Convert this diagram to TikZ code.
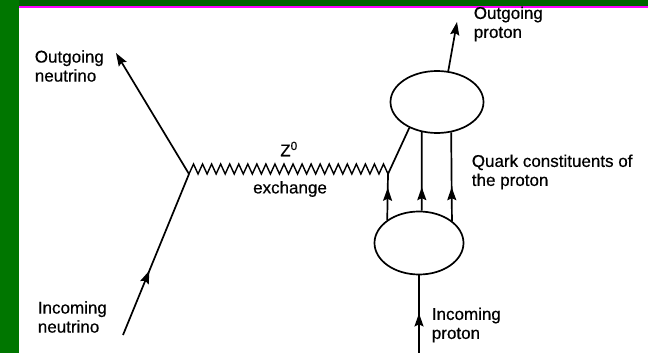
\documentclass[tikz,border=0pt]{standalone}
\usepackage{fontspec}
\setmainfont{Liberation Sans}[FakeBold=0.5]
\usepackage{xcolor}
\usetikzlibrary{arrows.meta,positioning,shapes.geometric,decorations.markings}

\definecolor{topgreen}{RGB}{0,100,0}
\definecolor{sidegreen}{RGB}{0,118,0}
\definecolor{rulepink}{RGB}{255,0,255}

\begin{document}
\begin{tikzpicture}[
    x=1pt, y=-1pt,
    line width=1.7pt,
    >={Stealth[length=13pt,width=9pt,inset=2pt]},
    blob/.style={ellipse, draw, line width=1.7pt, minimum width=89pt, minimum height=63pt, inner sep=0pt},
    lbl/.style={align=left, anchor=west, inner sep=0pt, font=\fontsize{17}{19}\selectfont},
    midarrow/.style={postaction={decorate}, decoration={markings, mark=at position #1 with {\arrow{>}}}}
]
\useasboundingbox (0,0) rectangle (648,353);

% frame
\fill[white] (0,0) rectangle (648,353);
\fill[topgreen] (0,0) rectangle (648,6);
\fill[sidegreen] (0,0) rectangle (19,353);
\fill[rulepink] (19,6) rectangle (648,8);

% vertices and free ends
\coordinate (V) at (189,174);
\coordinate (Q) at (388,174);
\coordinate (nuin) at (123,335);
\coordinate (nuout) at (116,53);
\coordinate (pin) at (419,353);
\coordinate (pout) at (457,22);

\node[blob, minimum width=93pt, minimum height=62pt] (top) at (437,102) {};
\node[blob] (bot) at (419,243) {};

% neutrino lines
\draw[->] (V) -- (nuout);
\draw[midarrow=0.4] (nuin) -- (V);

% Z0 exchange
\draw[line width=1.4pt, line join=miter] (V) \foreach \k in {1,...,22} { -- ++(4.523,-10) -- ++(4.523,10)};

% quarks
\draw[midarrow=0.7] (bot.144) -- (Q);
\draw (Q) -- (top.223);
\draw[midarrow=0.3] (bot.85) -- (top.243);
\draw[midarrow=0.38] (bot.34) -- (top.295);

% proton lines
\draw[->] (top.70) -- (pout);
\draw[midarrow=0.51] (pin) -- (bot.south);

% labels
\node[lbl] (nuoutlbl) at (34,66) {Outgoing\\neutrino};
\node[lbl] (nuinlbl) at (37,317) {Incoming\\neutrino};
\node[lbl] (poutlbl) at (473,24) {Outgoing\\proton};
\node[lbl] (quarklbl) at (471,172) {Quark constituents of\\the proton};
\node[lbl] (pinlbl) at (431,325) {Incoming\\proton};
\node[lbl, anchor=center] (zlbl) at (289,149) {Z\textsuperscript{0}};
\node[lbl, anchor=center] (exlbl) at (290,189) {exchange};

\end{tikzpicture}
\end{document}
